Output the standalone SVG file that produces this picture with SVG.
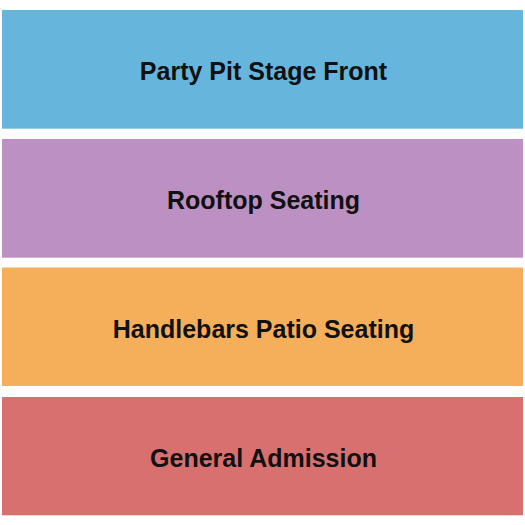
<svg xmlns="http://www.w3.org/2000/svg" width="525" height="525" viewBox="0 0 525 525">
<style>
.lbl{font-family:"Liberation Sans",Arial,sans-serif;font-weight:bold;font-size:25px;fill:#111;text-anchor:middle}
</style>
<rect width="525" height="525" fill="#fff"/>
<g id="party-pit"><rect x="2" y="10" width="521" height="118.7" fill="#66B5DC"/><text class="lbl" x="263.5" y="80">Party Pit Stage Front</text></g>
<g id="rooftop"><rect x="2" y="139" width="521" height="118.7" fill="#BD90C3"/><text class="lbl" x="263.5" y="209">Rooftop Seating</text></g>
<g id="handlebars"><rect x="2" y="267.5" width="521" height="118.5" fill="#F5AF5A"/><text class="lbl" x="263.5" y="337.7">Handlebars Patio Seating</text></g>
<g id="general"><rect x="2" y="397" width="521" height="118.3" fill="#D7706F"/><text class="lbl" x="263.5" y="466.9">General Admission</text></g>
<g id="connectors"/>
</svg>
